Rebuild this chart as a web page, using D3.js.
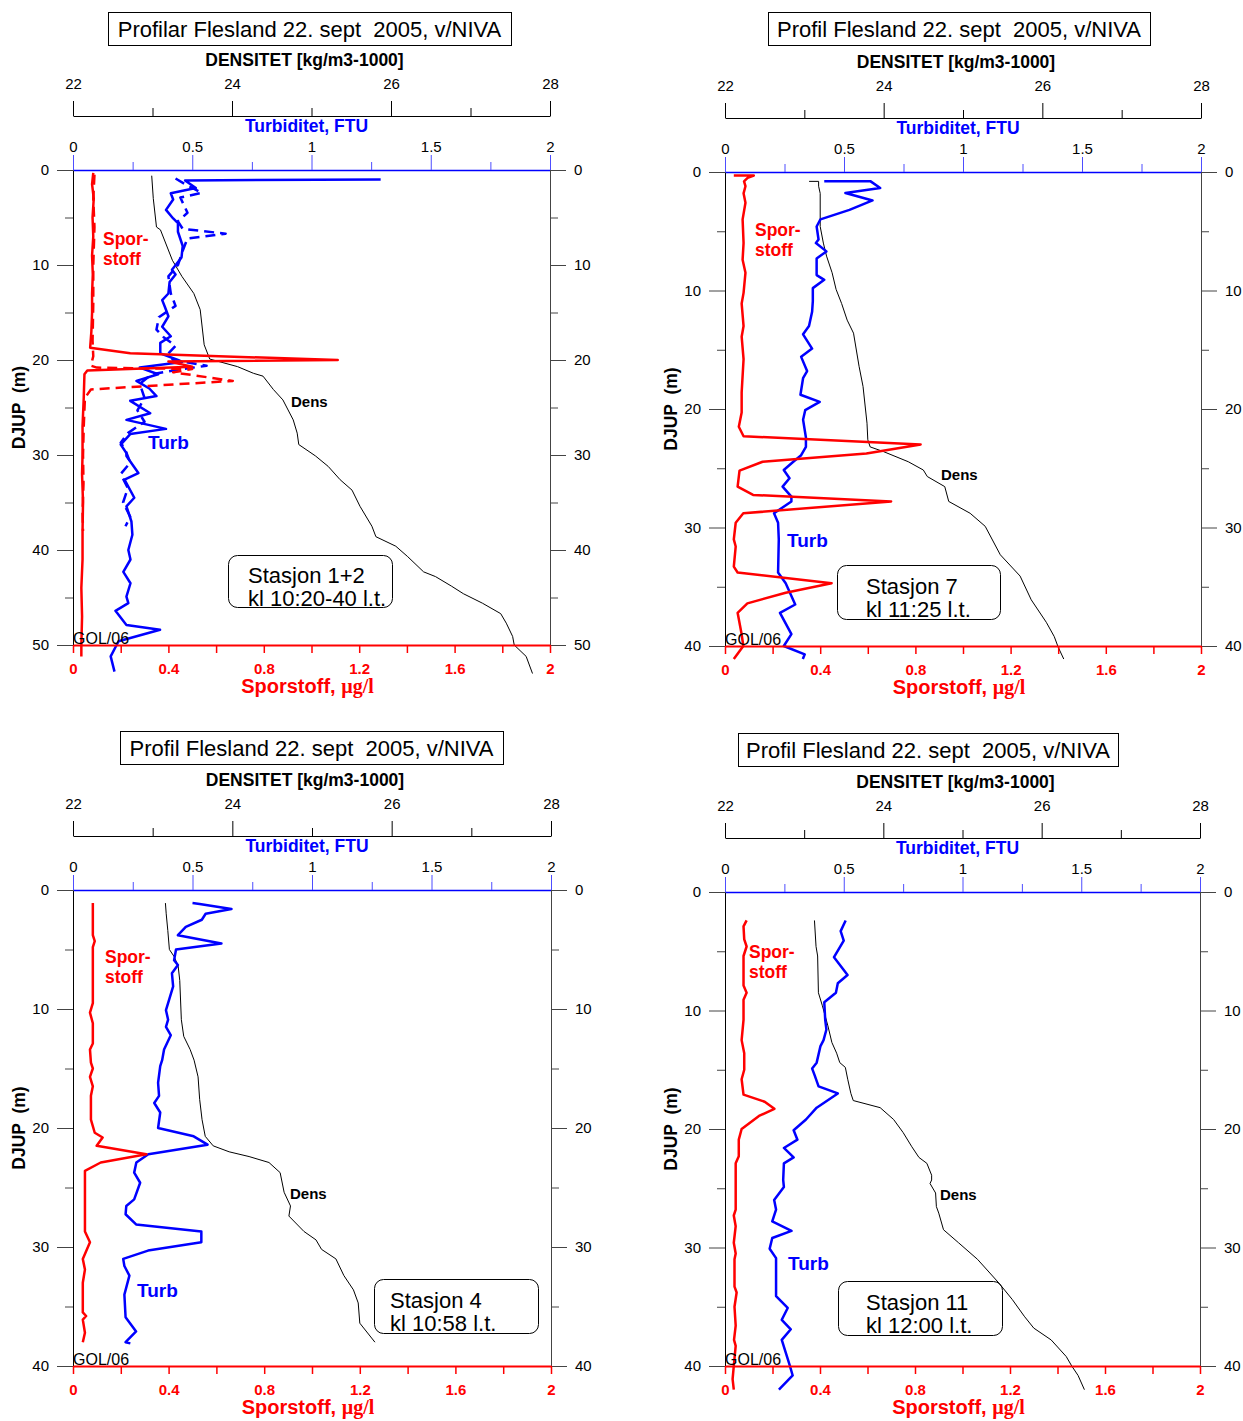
<!DOCTYPE html>
<html><head><meta charset="utf-8">
<script src="https://cdn.jsdelivr.net/npm/d3@7"></script>
<style>body{margin:0;background:#fff} svg{display:block} text{font-family:"Liberation Sans",Arial,sans-serif}</style>
</head><body><svg id="c" width="1243" height="1421"></svg>
<script>
// ---------- text / tick data ----------
const titles = ["Profilar Flesland 22. sept  2005, v/NIVA","Profil Flesland 22. sept  2005, v/NIVA","Profil Flesland 22. sept  2005, v/NIVA","Profil Flesland 22. sept  2005, v/NIVA"];
const stations = [["Stasjon 1+2","kl 10:20-40 l.t."],["Stasjon 7","kl 11:25 l.t."],["Stasjon 4","kl 10:58 l.t."],["Stasjon 11","kl 12:00 l.t."]];
const maxDepths = [50,40,40,40];
const densMajor = [22,24,26,28];
const densMinor = [23,25,27];
const turbMajor = [0,0.5,1,1.5,2];
const turbMinor = [0.25,0.75,1.25,1.75];
const sporTicks = [0,0.2,0.4,0.6,0.8,1.0,1.2,1.4,1.6,1.8,2.0];
const sporTickLabels = [0,0.4,0.8,1.2,1.6,2];
const densTitle = "DENSITET [kg/m3-1000]";
const turbTitle = "Turbiditet, FTU";
const depthTitle = "DJUP  (m)";

// ---------- series: [depth, value] ----------
// Panel 1 (Stasjon 1+2)
const spor1 = [[0.3,0.085],[1.5,0.08],[3,0.087],[5,0.082],[7,0.085],[9,0.08],[11,0.083],[13,0.08],[15,0.08],[17,0.077],[18.7,0.072],[19.3,0.24],[20.0,1.11],[20.15,0.40],[20.7,0.50],[21.1,0.06],[21.5,0.048],[24,0.045],[27,0.04],[30,0.04],[32,0.038],[35,0.042],[38,0.04],[41,0.04],[44,0.035],[47,0.038],[50,0.035],[51.2,0.035]];
const spor1b = [[0.5,0.09],[3,0.085],[6,0.09],[10,0.085],[14,0.085],[18,0.082],[19.6,0.085],[20.6,0.075],[20.8,0.10],[20.95,0.50],[21.3,0.42],[22.2,0.67],[23.1,0.075],[24,0.05],[27,0.045],[30,0.042],[33,0.044],[36,0.04],[38,0.042]];
const turb1 = [[1.0,1.29],[1.1,0.47],[1.9,0.515],[2.45,0.41],[3.1,0.42],[4.2,0.39],[5.1,0.42],[5.6,0.44],[6.5,0.44],[8.0,0.46],[9.2,0.455],[10.5,0.415],[11.0,0.43],[11.8,0.405],[13,0.40],[13.7,0.374],[14.4,0.385],[15.4,0.40],[16.5,0.374],[17.5,0.41],[18.2,0.366],[19.3,0.366],[20.0,0.44],[20.2,0.457],[20.8,0.28],[21.5,0.357],[22.2,0.266],[23.0,0.32],[23.8,0.35],[24.3,0.24],[25.6,0.324],[26.3,0.224],[27.25,0.39],[27.8,0.24],[28.9,0.20],[29.8,0.224],[30.1,0.224],[31.9,0.274],[32.6,0.216],[34.5,0.257],[35.4,0.224],[37,0.245],[38.4,0.249],[40,0.232],[41,0.241],[42.3,0.211],[43.5,0.241],[44.9,0.224],[45.6,0.232],[46.4,0.178],[47.9,0.224],[48.4,0.365],[49.6,0.191],[51.2,0.158],[52.8,0.174]];
const turb1b = [[0.9,0.43],[1.5,0.47],[2.4,0.54],[2.9,0.45],[4.5,0.48],[5.4,0.44],[6.2,0.46],[6.7,0.64],[7.2,0.48],[8.5,0.46],[10,0.44],[11.2,0.40],[13,0.41],[14.3,0.43],[15.5,0.36],[16.8,0.35],[17.6,0.38],[18.5,0.43],[19.3,0.40],[20,0.42],[20.6,0.56],[21.1,0.42],[21.5,0.33],[22.5,0.28],[24,0.30],[25.3,0.27],[26.5,0.30],[27.7,0.23],[28.7,0.20],[29.5,0.22],[30.8,0.24],[32,0.2],[33.5,0.23],[35,0.21],[36.5,0.24],[37.5,0.22]];
const dens1 = [[0.6,22.99],[3,23.01],[6.0,23.05],[6.3,23.10],[9.5,23.25],[11.2,23.37],[13,23.52],[14.7,23.6],[18.4,23.65],[19.9,23.72],[20.7,24.07],[21.4,24.27],[21.7,24.39],[23.1,24.52],[24.2,24.64],[26.3,24.77],[27.7,24.82],[28.9,24.84],[30.1,25.05],[31.2,25.21],[32.6,25.36],[33.7,25.51],[35.4,25.61],[37.5,25.76],[38.6,25.81],[39.6,26.06],[40.7,26.21],[42.3,26.41],[42.8,26.56],[43.8,26.76],[44.6,26.91],[45.6,27.15],[46.7,27.38],[47.7,27.45],[49.1,27.53],[50,27.55],[51.2,27.70],[53,27.78]];
// Panel 2 (Stasjon 7)
const spor2 = [[0.3,0.037],[0.3,0.121],[0.5,0.095],[0.8,0.08],[1.2,0.086],[1.8,0.078],[2.6,0.086],[4.0,0.074],[6,0.078],[7.4,0.074],[8.5,0.086],[10.2,0.078],[11.1,0.07],[13,0.078],[13.9,0.07],[15.8,0.078],[18.6,0.07],[20.3,0.07],[21.5,0.058],[22.3,0.078],[23.0,0.822],[23.75,0.594],[24.45,0.158],[25.2,0.061],[26.55,0.053],[27.25,0.118],[27.8,0.698],[28.8,0.077],[29.6,0.045],[31.0,0.037],[31.6,0.045],[33.3,0.037],[33.8,0.053],[34.7,0.448],[35.5,0.255],[36.4,0.094],[37.2,0.053],[38.9,0.069],[40,0.077],[41.1,0.037]];
const turb2 = [[0.79,0.417],[0.79,0.612],[1.35,0.652],[1.77,0.506],[2.4,0.62],[3.2,0.523],[4.0,0.401],[4.6,0.385],[5.7,0.393],[6.0,0.382],[6.7,0.426],[7.3,0.385],[8.7,0.385],[9.1,0.417],[9.8,0.369],[10.9,0.369],[11.8,0.366],[13.0,0.353],[13.7,0.328],[14.9,0.366],[15.6,0.32],[16.8,0.345],[17.4,0.328],[18.8,0.317],[19.4,0.398],[20.1,0.337],[20.9,0.328],[22.4,0.34],[23.2,0.34],[23.9,0.32],[24.45,0.287],[25.15,0.247],[25.85,0.271],[26.55,0.242],[27.4,0.279],[27.8,0.279],[28.8,0.206],[29.6,0.223],[31.0,0.226],[33.8,0.223],[34.7,0.255],[36.5,0.295],[37.2,0.231],[39.0,0.279],[40,0.247],[40.7,0.335],[41.1,0.327]];
const dens2 = [[0.79,23.06],[0.79,23.18],[1.2,23.18],[1.8,23.2],[4.6,23.2],[6,23.24],[7.1,23.28],[8.5,23.35],[9.9,23.4],[11.1,23.47],[12.5,23.54],[13.6,23.62],[16.4,23.69],[18.1,23.74],[21.2,23.79],[22.6,23.8],[23.2,23.83],[23.6,24.0],[24.45,24.31],[25.15,24.5],[25.7,24.55],[26.55,24.77],[27.8,24.82],[28.8,25.09],[29.9,25.28],[32.3,25.47],[34.1,25.72],[36.1,25.86],[38.0,26.05],[39.2,26.15],[40.1,26.2],[41.1,26.27]];
// Panel 3 (Stasjon 4)
const spor3 = [[1.1,0.083],[3.8,0.083],[4.3,0.091],[4.8,0.083],[9.5,0.083],[10.3,0.071],[11.2,0.083],[12.9,0.083],[13.4,0.071],[14.5,0.075],[15,0.083],[15.7,0.071],[16.5,0.083],[17.3,0.075],[19.3,0.075],[20.4,0.091],[20.8,0.124],[21.5,0.099],[22.2,0.307],[22.9,0.116],[23.6,0.05],[28.7,0.05],[29.6,0.071],[31.0,0.041],[31.9,0.05],[33.0,0.041],[35.5,0.041],[35.8,0.055],[36.1,0.041],[37.2,0.05],[38.0,0.041]];
const turb3 = [[1.1,0.50],[1.17,0.53],[1.6,0.663],[2.0,0.555],[2.5,0.539],[3.1,0.472],[3.8,0.439],[4.5,0.621],[5.0,0.431],[5.9,0.423],[6.3,0.439],[7.0,0.414],[8.1,0.419],[10.1,0.389],[10.9,0.398],[11.5,0.389],[12.2,0.409],[13.4,0.381],[14.3,0.373],[14.8,0.365],[16.2,0.356],[17.3,0.36],[17.9,0.34],[18.7,0.365],[20.0,0.356],[20.7,0.505],[21.4,0.563],[22.2,0.315],[22.9,0.265],[23.75,0.256],[24.6,0.281],[26.0,0.256],[26.55,0.223],[27.25,0.22],[28.1,0.264],[28.7,0.537],[29.6,0.537],[30.3,0.314],[31.0,0.21],[31.6,0.215],[32.4,0.236],[34.0,0.215],[35.9,0.22],[37.1,0.264],[38.0,0.22],[38.1,0.24]];
const dens3 = [[1.1,23.16],[2.0,23.17],[3.4,23.19],[5.0,23.21],[5.6,23.27],[6.4,23.32],[7.6,23.34],[10.9,23.36],[12.3,23.39],[13.4,23.47],[14.3,23.52],[15.7,23.57],[17.6,23.59],[19.3,23.62],[20.7,23.66],[21.5,23.76],[22.0,23.96],[22.4,24.21],[22.9,24.46],[23.75,24.6],[25.4,24.65],[26.55,24.73],[27.4,24.71],[28.7,24.9],[29.4,25.05],[30.2,25.12],[31.0,25.3],[32.4,25.4],[33.6,25.52],[34.7,25.58],[36.4,25.6],[38.0,25.79]];
// Panel 4 (Stasjon 11)
const spor4 = [[2.4,0.091],[2.9,0.078],[4.0,0.081],[4.6,0.091],[5.4,0.078],[7.9,0.078],[8.5,0.091],[9.1,0.078],[10.8,0.078],[12.5,0.07],[13.6,0.081],[15.0,0.081],[15.8,0.07],[17.1,0.078],[17.7,0.167],[18.3,0.208],[18.9,0.143],[20.0,0.07],[20.9,0.058],[22.3,0.058],[22.9,0.045],[24.3,0.045],[26.8,0.045],[27.3,0.037],[28.2,0.045],[29.6,0.037],[30.5,0.045],[31.0,0.04],[33.3,0.04],[33.8,0.049],[35,0.04],[36.6,0.045],[37.8,0.038],[38.3,0.045],[40,0.037],[41.1,0.032],[42,0.037]];
const turb4 = [[2.4,0.508],[3.3,0.487],[4.1,0.5],[5.5,0.459],[7.0,0.516],[7.7,0.475],[8.5,0.467],[9.3,0.418],[10.8,0.422],[11.6,0.427],[12.5,0.415],[13.0,0.402],[14.4,0.386],[14.9,0.367],[15.5,0.378],[16.4,0.394],[17.0,0.475],[18.2,0.386],[19.2,0.341],[20.1,0.289],[20.9,0.305],[21.6,0.248],[22.4,0.289],[22.9,0.248],[24.3,0.245],[24.9,0.248],[26.0,0.207],[26.8,0.215],[27.8,0.199],[28.6,0.28],[29.2,0.199],[30.1,0.188],[30.9,0.215],[34.1,0.215],[35.1,0.264],[36.1,0.239],[36.9,0.277],[37.8,0.239],[39.9,0.272],[40.8,0.285],[42.0,0.227]];
const dens4 = [[2.4,23.13],[4.6,23.15],[5.4,23.17],[8.5,23.18],[9.6,23.23],[11.3,23.3],[12.7,23.35],[13.6,23.41],[14.4,23.45],[14.8,23.52],[15.8,23.55],[17.0,23.59],[17.6,23.62],[18.2,23.96],[19.2,24.13],[20.3,24.25],[21.5,24.36],[22.4,24.45],[22.9,24.55],[23.9,24.61],[24.3,24.61],[24.6,24.59],[25.4,24.66],[26.55,24.67],[27.1,24.7],[28.5,24.76],[29.6,24.95],[31.0,25.19],[33.0,25.46],[34.4,25.63],[35.8,25.78],[36.8,25.9],[37.8,26.12],[39.2,26.31],[40.0,26.38],[40.8,26.46],[42.0,26.54]];

// ---------- layout (pixels) ----------
const layout = [
  {x0:73,x1:550,y0:170,y1:645, tb:[108,511,12,45], sb:[228,392,555,607], stx:248, spor:[103,245], turb:[148,449], dens:[291,407]},
  {x0:725,x1:1201,y0:172,y1:646, tb:[768,1150,12,45], sb:[837,1000,565,619], stx:866, spor:[755,236], turb:[787,547], dens:[941,480]},
  {x0:73,x1:551,y0:890,y1:1366, tb:[120,503,731,764], sb:[374,538,1279,1333], stx:390, spor:[105,963], turb:[137,1297], dens:[290,1199]},
  {x0:725,x1:1200,y0:892,y1:1366, tb:[738,1118,733,766], sb:[838,1002,1281,1335], stx:866, spor:[749,958], turb:[788,1270], dens:[940,1200]}
];
const series = [
  {spor:[spor1,spor1b], turb:[turb1,turb1b], dens:dens1},
  {spor:[spor2], turb:[turb2], dens:dens2},
  {spor:[spor3], turb:[turb3], dens:dens3},
  {spor:[spor4], turb:[turb4], dens:dens4}
];

const RED="#ff0000", BLUE="#0000ff", FONT='"Liberation Sans", Arial, sans-serif';
const svg = d3.select("#c");

function styleAxis(g, lineColor, textColor, size, weight){
  g.attr("font-family",FONT).attr("font-size",size);
  g.selectAll("line").attr("stroke",lineColor);
  g.selectAll("path.domain").attr("stroke",lineColor);
  g.selectAll("text").attr("fill",textColor).attr("font-weight",weight||"normal");
}

layout.forEach((L,i)=>{
  const S = series[i];
  const x = d3.scaleLinear().domain([0,2]).range([L.x0,L.x1]);
  const xd = d3.scaleLinear().domain([22,28]).range([L.x0,L.x1]);
  const y = d3.scaleLinear().domain([0,maxDepths[i]]).range([L.y0,L.y1]);
  const g = svg.append("g");
  const cx = (L.x0+L.x1)/2;
  const dMaj = d3.range(0,maxDepths[i]+1,10), dMin = d3.range(5,maxDepths[i],10);

  // title box
  g.append("rect").attr("x",L.tb[0]+0.5).attr("y",L.tb[2]+0.5).attr("width",L.tb[1]-L.tb[0]).attr("height",L.tb[3]-L.tb[2])
    .attr("fill","none").attr("stroke","#000").attr("stroke-width",1);
  g.append("text").attr("x",(L.tb[0]+L.tb[1])/2).attr("y",(L.tb[2]+L.tb[3])/2+8).attr("text-anchor","middle")
    .attr("font-size",22).style("white-space","pre").text(titles[i]);

  // density axis
  g.append("text").attr("x",cx-7).attr("y",L.y0-104).attr("text-anchor","middle").attr("font-weight","bold").attr("font-size",17.5).text(densTitle);
  const ay = L.y0-54;
  const da = g.append("g").attr("transform",`translate(0,${ay})`)
    .call(d3.axisTop(xd).tickValues(densMajor).tickSize(15).tickSizeOuter(0).tickPadding(12).tickFormat(d3.format("d")));
  styleAxis(da,"#000","#000",15);
  const dm = g.append("g").attr("transform",`translate(0,${ay})`)
    .call(d3.axisTop(xd).tickValues(densMinor).tickSize(8).tickSizeOuter(0).tickFormat(""));
  dm.select(".domain").remove(); styleAxis(dm,"#000","#000",15);

  // turbidity axis (top of plot)
  g.append("text").attr("x",cx-5).attr("y",L.y0-38).attr("text-anchor","middle").attr("font-weight","bold").attr("font-size",17.5).attr("fill",BLUE).text(turbTitle);
  const ta = g.append("g").attr("transform",`translate(0,${L.y0})`)
    .call(d3.axisTop(x).tickValues(turbMajor).tickSize(15).tickSizeOuter(0).tickPadding(3).tickFormat(d3.format("~g")));
  styleAxis(ta,"#4d4dff","#000",15);
  const tm = g.append("g").attr("transform",`translate(0,${L.y0})`)
    .call(d3.axisTop(x).tickValues(turbMinor).tickSize(8).tickSizeOuter(0).tickFormat(""));
  tm.select(".domain").remove(); styleAxis(tm,"#4d4dff","#000",15);
  ta.select(".domain").attr("stroke",BLUE).attr("stroke-width",1.5);

  // left depth axis
  const la = g.append("g").attr("transform",`translate(${L.x0},0)`)
    .call(d3.axisLeft(y).tickValues(dMaj).tickSize(16).tickSizeOuter(0).tickPadding(8).tickFormat(d3.format("d")));
  styleAxis(la,"#444","#000",15);
  la.select(".domain").attr("stroke","#000");
  const lm = g.append("g").attr("transform",`translate(${L.x0},0)`)
    .call(d3.axisLeft(y).tickValues(dMin).tickSize(8).tickSizeOuter(0).tickFormat(""));
  lm.select(".domain").remove(); styleAxis(lm,"#444","#000",15);

  // right depth axis
  const ra = g.append("g").attr("transform",`translate(${L.x1},0)`)
    .call(d3.axisRight(y).tickValues(dMaj).tickSize(16).tickSizeOuter(0).tickPadding(8).tickFormat(d3.format("d")));
  styleAxis(ra,"#444","#000",15);
  const rm = g.append("g").attr("transform",`translate(${L.x1},0)`)
    .call(d3.axisRight(y).tickValues(dMin).tickSize(8).tickSizeOuter(0).tickFormat(""));
  rm.select(".domain").remove(); styleAxis(rm,"#444","#000",15);

  // depth title
  g.append("text").attr("transform",`translate(${L.x0-48},${(L.y0+L.y1)/2}) rotate(-90)`).attr("text-anchor","middle")
    .attr("font-weight","bold").attr("font-size",17.5).style("white-space","pre").text(depthTitle);

  // station box
  g.append("rect").attr("x",L.sb[0]+0.5).attr("y",L.sb[2]+0.5).attr("width",L.sb[1]-L.sb[0]).attr("height",L.sb[3]-L.sb[2])
    .attr("rx",9).attr("fill","none").attr("stroke","#000").attr("stroke-width",1);
  const lh = (L.sb[3]-L.sb[2]);
  g.append("text").attr("x",L.stx).attr("y",L.sb[2]+lh*0.38+8).attr("font-size",22).text(stations[i][0]);
  g.append("text").attr("x",L.stx).attr("y",L.sb[2]+lh*0.82+8).attr("font-size",22).text(stations[i][1]);

  // lines
  const lineT = d3.line().x(d=>x(d[1])).y(d=>y(d[0]));
  const lineD = d3.line().x(d=>xd(d[1])).y(d=>y(d[0]));
  g.append("path").datum(S.dens).attr("d",lineD).attr("fill","none").attr("stroke","#000").attr("stroke-width",1);
  S.turb.forEach((s,k)=>g.append("path").datum(s).attr("d",lineT).attr("fill","none").attr("stroke",BLUE).attr("stroke-width",2.5)
     .attr("stroke-linejoin","round").attr("stroke-dasharray",k?"10,6":null));
  S.spor.forEach((s,k)=>g.append("path").datum(s).attr("d",lineT).attr("fill","none").attr("stroke",RED).attr("stroke-width",2.5)
     .attr("stroke-linejoin","round").attr("stroke-dasharray",k?"10,6":null));

  // bottom sporstoff axis
  const ba = g.append("g").attr("transform",`translate(0,${L.y1})`)
    .call(d3.axisBottom(x).tickValues(sporTicks).tickSize(8).tickSizeOuter(0).tickPadding(10)
      .tickFormat(d=>sporTickLabels.some(v=>Math.abs(v-d)<1e-6)?d3.format("~g")(d):""));
  styleAxis(ba,RED,RED,15,"bold");
  ba.selectAll("line").attr("stroke-width",1.5);
  ba.select(".domain").attr("stroke-width",2);
  const st = g.append("text").attr("x",cx-4).attr("y",L.y1+48).attr("text-anchor","middle").attr("font-weight","bold").attr("font-size",20).attr("fill",RED);
  st.append("tspan").text("Sporstoff, ");
  st.append("tspan").attr("font-family",'"Liberation Serif", "Times New Roman", serif').text("µg/l");

  // annotations
  g.append("text").attr("x",L.x0).attr("y",L.y1-1).attr("font-size",16).text("GOL/06");
  g.append("text").attr("x",L.spor[0]).attr("y",L.spor[1]).attr("font-weight","bold").attr("font-size",17.5).attr("fill",RED).text("Spor-");
  g.append("text").attr("x",L.spor[0]).attr("y",L.spor[1]+20).attr("font-weight","bold").attr("font-size",17.5).attr("fill",RED).text("stoff");
  g.append("text").attr("x",L.turb[0]).attr("y",L.turb[1]).attr("font-weight","bold").attr("font-size",19).attr("fill",BLUE).text("Turb");
  g.append("text").attr("x",L.dens[0]).attr("y",L.dens[1]).attr("font-weight","bold").attr("font-size",15).attr("fill","#000").text("Dens");
});
</script></body></html>
